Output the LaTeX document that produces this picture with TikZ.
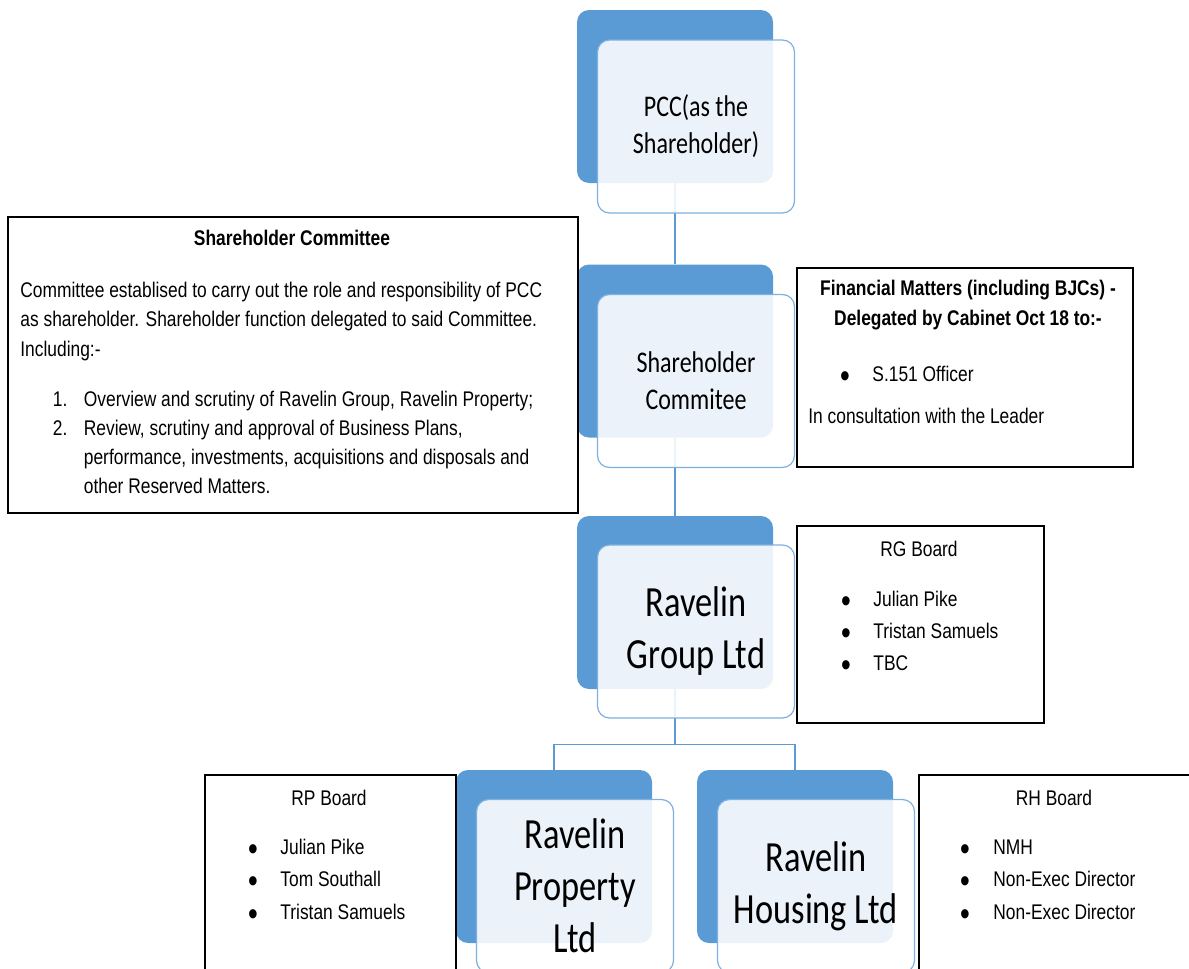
\documentclass[tikz,border=0pt]{standalone}
\usepackage{fontspec}
\setmainfont{Liberation Sans}[FakeStretch=0.82]
\newfontfamily\calibri{Carlito}[FakeStretch=0.8]
\usetikzlibrary{fit}

\definecolor{accentblue}{HTML}{5B9BD5}
\definecolor{edgeblue}{HTML}{7EB0E0}

\newcommand{\bigdot}{\raisebox{-3pt}{\scalebox{1.6}{\textbullet}}}

\tikzset{
  backbox/.style={fill=accentblue, rounded corners=6pt, minimum width=98pt, minimum height=86.5pt, inner sep=0pt},
  frontbox/.style={draw=edgeblue, line width=0.6pt, fill=white, fill opacity=0.88, text opacity=1,
    rounded corners=6pt, minimum width=98.5pt, minimum height=86.5pt, inner sep=0pt, align=center,
    font=\calibri\fontsize{15}{18.5}\selectfont},
  bigname/.style={font=\calibri\fontsize{21.5}{26}\selectfont},
  link/.style={draw=accentblue, line width=0.7pt},
  infobox/.style={draw=black, line width=0.8pt, inner sep=0pt},
  bodytext/.style={font=\fontsize{10.6}{12}\selectfont, inner sep=0pt},
  headtext/.style={bodytext, font=\fontsize{10.6}{12}\selectfont\bfseries}
}

\begin{document}
\begin{tikzpicture}[x=0.5pt, y=-0.5pt]
  \useasboundingbox (0,0) rectangle (1189,969);

  % dark blue back plates
  \node[backbox] (pccback) at (675,96.5) {};
  \node[backbox] (scback) at (675,351) {};
  \node[backbox] (groupback) at (675,602.5) {};
  \node[backbox] (propback) at (554,856.5) {};
  \node[backbox] (houseback) at (795,856.5) {};

  % connectors
  \draw[link] (pccback.south) -- (scback.north);
  \draw[link] (scback.south) -- (groupback.north);
  \draw[link] (groupback.south) -- ++(0,55) coordinate (split) -| (propback.north);
  \draw[link] (split) -| (houseback.north);

  % light front plates with names
  \node[frontbox] (pccfront) at (696,126.5) {PCC(as the\\Shareholder)};
  \node[frontbox] (scfront) at (696,381) {Shareholder\\Commitee};
  \node[frontbox, bigname] (groupfront) at (696,631.5) {Ravelin\\Group Ltd};
  \node[frontbox, bigname] (propfront) at (575,886) {Ravelin\\Property\\Ltd};
  \node[frontbox, bigname] (housefront) at (816,886) {Ravelin\\Housing Ltd};

  % Shareholder Committee box
  \node[infobox, fit={(8,217) (578,513)}] (scbox) {};
  \node[headtext, anchor=base] (schead) at (292,245) {Shareholder Committee};
  \foreach \txt [count=\i] in {Committee establised to carry out the role and responsibility of PCC,
      as shareholder. Shareholder function delegated to said Committee., Including:-}
    \node[bodytext, anchor=base west] (scline\i) at (20,{297+29.8*(\i-1)}) {\txt};
  \node[bodytext, anchor=base west] (scnum1) at (52.5,406.5) {1.};
  \node[bodytext, anchor=base west] (scitem1) at (83.5,406.5) {Overview and scrutiny of Ravelin Group, Ravelin Property;};
  \node[bodytext, anchor=base west] (scnum2) at (52.5,435) {2.};
  \node[bodytext, anchor=base west] (scitem2) at (83.5,435) {Review, scrutiny and approval of Business Plans,};
  \node[bodytext, anchor=base west] (scitem3) at (83.5,464) {performance, investments, acquisitions and disposals and};
  \node[bodytext, anchor=base west] (scitem4) at (83.5,493) {other Reserved Matters.};

  % Financial matters box
  \node[infobox, fit={(797,268) (1133,467)}] (finbox) {};
  \node[headtext, anchor=base] (finhead1) at (968,295) {Financial Matters (including BJCs) -};
  \node[headtext, anchor=base] (finhead2) at (968,325) {Delegated by Cabinet Oct 18 to:-};
  \node[bodytext, anchor=base] (findot) at (845,381.5) {\bigdot};
  \node[bodytext, anchor=base west] (finitem) at (872,381.5) {S.151 Officer};
  \node[bodytext, anchor=base west] (finnote) at (808,423) {In consultation with the Leader};

  % RG board
  \node[infobox, fit={(797,526) (1044,723)}] (rgbox) {};
  \node[bodytext, anchor=base] (rghead) at (919,556.5) {RG Board};
  \foreach \who [count=\i] in {Julian Pike, Tristan Samuels, TBC} {
    \node[bodytext, anchor=base] (rgdot\i) at (846,{606.7+31.7*(\i-1)}) {\bigdot};
    \node[bodytext, anchor=base west] (rgitem\i) at (873,{606.7+31.7*(\i-1)}) {\who};
  }

  % RP board
  \node[infobox, fit={(205,775) (456,990)}] (rpbox) {};
  \node[bodytext, anchor=base] (rphead) at (329,805) {RP Board};
  \foreach \who [count=\i] in {Julian Pike, Tom Southall, Tristan Samuels} {
    \node[bodytext, anchor=base] (rpdot\i) at (253,{854.3+32.5*(\i-1)}) {\bigdot};
    \node[bodytext, anchor=base west] (rpitem\i) at (280,{854.3+32.5*(\i-1)}) {\who};
  }

  % RH board
  \node[infobox, fit={(919,775) (1200,990)}] (rhbox) {};
  \node[bodytext, anchor=base] (rhhead) at (1054,805) {RH Board};
  \foreach \who [count=\i] in {NMH, Non-Exec Director, Non-Exec Director} {
    \node[bodytext, anchor=base] (rhdot\i) at (965,{854.3+32.5*(\i-1)}) {\bigdot};
    \node[bodytext, anchor=base west] (rhitem\i) at (993,{854.3+32.5*(\i-1)}) {\who};
  }
\end{tikzpicture}
\end{document}
